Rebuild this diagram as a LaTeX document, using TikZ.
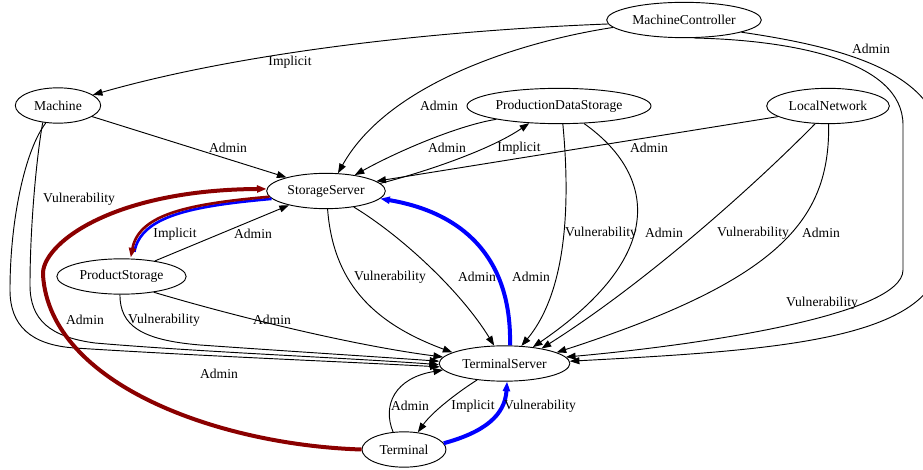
\documentclass[tikz,border=0pt]{standalone}
\usepackage{fontspec}
\setmainfont{Liberation Serif}
\usetikzlibrary{shapes.geometric,arrows.meta}

\definecolor{atkred}{RGB}{139,0,0}
\definecolor{atkblue}{RGB}{0,0,255}

\begin{document}
\begin{tikzpicture}[x=0.75pt,y=0.75pt,yscale=-1,xscale=1,
  asset/.style={ellipse,draw,line width=0.7pt,inner sep=0pt,minimum height=26.5pt,font=\fontsize{10.2}{12}\selectfont},
  lbl/.style={inner sep=0.75pt,font=\fontsize{10.2}{12}\selectfont},
  link/.style={line width=0.7pt,-{Triangle[length=7.2pt,width=5.2pt]}},
  redlink/.style={link,color=atkred,line width=3pt},
  bluelink/.style={link,color=atkblue,line width=3pt}]
\useasboundingbox (0,0) rectangle (923,470);

% Assets
\node[asset,minimum width=116pt] (mc) at (684,20) {MachineController};
\node[asset,minimum width=64pt] (m) at (58,105.5) {Machine};
\node[asset,minimum width=138pt] (pds) at (559,106) {ProductionDataStorage};
\node[asset,minimum width=92pt] (ln) at (828,106) {LocalNetwork};
\node[asset,minimum width=89pt] (ss) at (326,191) {StorageServer};
\node[asset,minimum width=97pt] (ps) at (121.5,276.5) {ProductStorage};
\node[asset,minimum width=98pt] (ts) at (504.5,363.5) {TerminalServer};
\node[asset,minimum width=63pt] (t) at (404,449.5) {Terminal};

%Curve Lines [MachineController]
\draw[link] (mc.183) .. controls (450,30) and (250,50) .. (m.17);
\draw[link] (mc.186) .. controls (530,40) and (390,80) .. (ss.56);
\draw[link] (mc.-12) .. controls (850,48) and (942,75) .. (942,150) -- (942,250) .. controls (942,340) and (780,350) .. (ts.2);
\draw[link] (mc.-62) .. controls (790,40) and (903,60) .. (903,125) -- (903,270) .. controls (903,315) and (700,345) .. (ts.6);

%Curve Lines [ProductionDataStorage, LocalNetwork]
\draw[link] (pds.192) .. controls (460,125) and (400,150) .. (ss.29);
\draw[link] (ss.8) .. controls (425,172) and (490,150) .. (pds.210);
\draw[link] (ln.192) -- (ss.11);
\draw[link] (pds.-78) .. controls (570,200) and (568,290) .. (ts.46);
\draw[link] (pds.-35) .. controls (650,170) and (675,250) .. (ts.30);
\draw[link] (ln.234) .. controls (760,180) and (650,280) .. (ts.22);
\draw[link] (ln.-88) .. controls (830,220) and (780,280) .. (ts.12);

%Curve Lines [Machine]
\draw[link] (m.-18) -- (ss.161);
\draw[link] (m.-125) .. controls (25,150) and (10,220) .. (10,290) .. controls (10,325) and (30,345) .. (75,348) .. controls (200,356) and (350,362) .. (ts.183);
\draw[link] (m.-132) .. controls (36,160) and (30,230) .. (30,285) .. controls (30,320) and (50,337) .. (95,343) .. controls (200,352) and (350,358) .. (ts.181);

%Curve Lines [StorageServer, ProductStorage]
\draw[bluelink,-,line width=2pt,shorten >=6pt,transform canvas={xshift=0.8pt,yshift=-0.8pt}] (ss.187) .. controls (190,205) and (140,215) .. (ps.60);
\draw[redlink,line width=2pt,transform canvas={xshift=-0.8pt,yshift=0.8pt}] (ss.187) .. controls (190,205) and (140,215) .. (ps.60);
\draw[link] (ps.25) -- (ss.201);
\draw[link] (ss.-85) .. controls (333,280) and (370,322) .. (ts.168);
\draw[link] (ss.-30) .. controls (400,235) and (460,290) .. (ts.120);
\draw[bluelink] (ts.73) .. controls (512,255) and (460,212) .. (ss.-8);
\draw[link] (ps.-95) .. controls (120,325) and (140,340) .. (200,345) .. controls (300,352) and (380,357) .. (ts.178);
\draw[link] (ps.-26) .. controls (230,315) and (350,345) .. (ts.174);

%Curve Lines [Terminal]
\draw[redlink] (t.180) .. controls (220,445) and (50,385) .. (43,275) .. controls (41,245) and (110,190) .. (ss.178);
\draw[link] (t.122) .. controls (382,405) and (395,378) .. (ts.186);
\draw[link] (ts.211) .. controls (458,392) and (432,412) .. (t.51);
\draw[bluelink] (t.9) .. controls (485,432) and (505,415) .. (ts.-82);

% Text Node
\node[lbl] (l-mc-m) at (290,62) {Implicit};
\node[lbl] (l-mc-ss) at (439,106) {Admin};
\node[lbl] (l-mc-ts-a) at (871,49) {Admin};
\node[lbl] (l-mc-ts-v) at (822,303) {Vulnerability};
\node[lbl] (l-pds-ss) at (447,148) {Admin};
\node[lbl] (l-ss-pds) at (519,148) {Implicit};
\node[lbl] (l-ln-ss) at (649,148) {Admin};
\node[lbl] (l-pds-ts-v) at (601,233) {Vulnerability};
\node[lbl] (l-pds-ts-a) at (664,233) {Admin};
\node[lbl] (l-ln-ts-v) at (753,233) {Vulnerability};
\node[lbl] (l-ln-ts-a) at (821,233) {Admin};
\node[lbl] (l-m-ss) at (228,148) {Admin};
\node[lbl] (l-m-ts-v) at (79,199) {Vulnerability};
\node[lbl] (l-m-ts-a) at (219,374) {Admin};
\node[lbl] (l-ss-ps) at (175,234) {Implicit};
\node[lbl] (l-ps-ss) at (253,234) {Admin};
\node[lbl] (l-ss-ts-v) at (390,277) {Vulnerability};
\node[lbl] (l-ss-ts-a) at (477,277) {Admin};
\node[lbl] (l-ts-ss) at (531,277) {Admin};
\node[lbl] (l-ps-ts-v) at (164,320) {Vulnerability};
\node[lbl] (l-ps-ts-a) at (272,320) {Admin};
\node[lbl] (l-t-ss) at (85,320) {Admin};
\node[lbl] (l-t-ts-a) at (410,406) {Admin};
\node[lbl] (l-ts-t) at (473,406) {Implicit};
\node[lbl] (l-t-ts-v) at (540,406) {Vulnerability};

\end{tikzpicture}
\end{document}
